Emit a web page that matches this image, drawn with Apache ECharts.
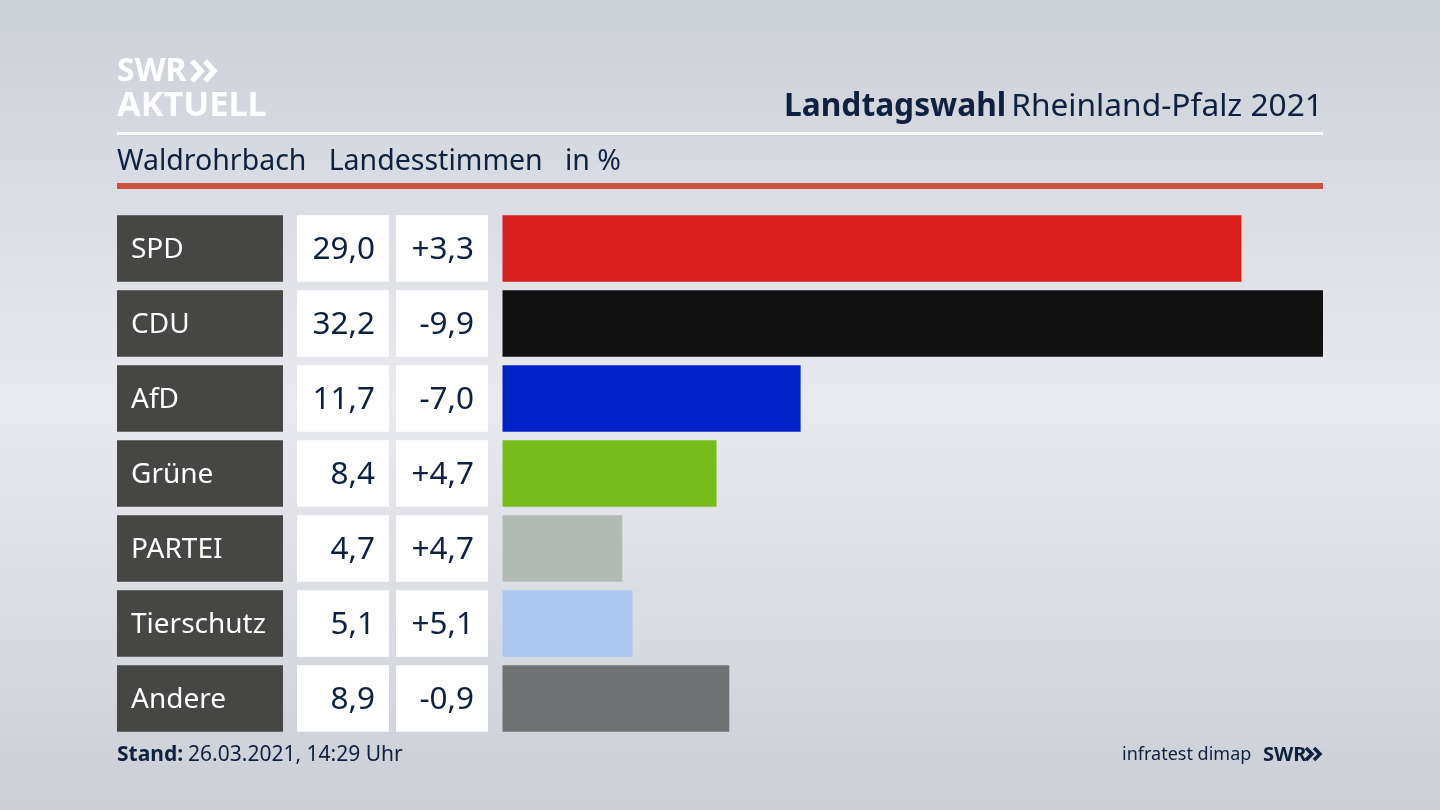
<!DOCTYPE html>
<html>
<head>
<meta charset="utf-8">
<style>html,body{margin:0;padding:0;background:#dfe1e6}#main{width:1440px;height:810px}</style>
<script src="https://cdn.jsdelivr.net/npm/echarts@6/dist/echarts.min.js"></script>
</head>
<body>
<div id="main"></div>
<script>
var parties = ['SPD', 'CDU', 'AfD', 'Grüne', 'PARTEI', 'Tierschutz', 'Andere'];
var shares = [29.0, 32.2, 11.7, 8.4, 4.7, 5.1, 8.9];
var changes = [3.3, -9.9, -7.0, 4.7, 4.7, 5.1, -0.9];
var colors = ['#d7201e', '#111111', '#0022c8', '#78bc1b', '#b2bab4', '#abc7f0', '#707173'];

var font = '"Noto Sans"';
var ink = '#0f2140';
var myChart = echarts.init(document.getElementById('main'));

function comma(v) {
  return Math.abs(v).toFixed(1).replace('.', ',');
}
function shareLabel(v) {
  return comma(v);
}
function changeLabel(v) {
  return (v < 0 ? '-' : '+') + comma(v);
}

// white cells next to the bars are axis labels with a background
function cellAxis(labels, offset, cellStyle) {
  return {
    type: 'category',
    inverse: true,
    position: 'left',
    offset: offset,
    data: labels,
    axisLine: { show: false },
    axisTick: { show: false },
    splitLine: { show: false },
    axisLabel: {
      margin: 0,
      align: 'right',
      interval: 0,
      formatter: function (v) { return '{c|' + v + '}'; },
      rich: { c: cellStyle }
    }
  };
}

var whiteCell = {
  width: 78,
  height: 62.5,
  lineHeight: 62.5,
  padding: [4, 14, 0, 0],
  align: 'right',
  backgroundColor: '#ffffff',
  color: ink,
  fontFamily: font,
  fontSize: 31.5
};

var option = {
  animation: false,
  backgroundColor: new echarts.graphic.LinearGradient(0, 0, 0, 1, [
    { offset: 0, color: '#ccd0d7' },
    { offset: 0.5, color: '#e9eaef' },
    { offset: 1, color: '#cbcfd5' }
  ]),
  title: [
    {
      text: '{b|Landtagswahl} {r|Rheinland-Pfalz 2021}',
      right: 112,
      top: 86,
      textStyle: {
        rich: {
          b: { fontFamily: font, fontSize: 31.7, fontWeight: 'bold', color: ink },
          r: { fontFamily: font, fontSize: 31.7, fontWeight: 'normal', color: ink }
        }
      }
    },
    {
      text: 'Waldrohrbach   Landesstimmen   in %',
      left: 112,
      top: 142,
      textStyle: { fontFamily: font, fontSize: 28.5, fontWeight: 'normal', color: ink }
    },
    {
      text: '{b|Stand:} {r|26.03.2021, 14:29 Uhr}',
      left: 112,
      top: 740,
      textStyle: {
        rich: {
          b: { fontFamily: font, fontSize: 21, fontWeight: 'bold', color: ink },
          r: { fontFamily: font, fontSize: 21, fontWeight: 'normal', color: ink }
        }
      }
    },
    {
      text: 'infratest dimap',
      left: 1117,
      top: 741,
      textStyle: { fontFamily: font, fontSize: 18, fontWeight: 'normal', color: ink }
    },
    {
      text: 'SWR',
      left: 1258,
      top: 740,
      textStyle: { fontFamily: font, fontSize: 20, fontWeight: 'bold', color: ink }
    },
    {
      text: 'SWR',
      left: 112,
      top: 51,
      textStyle: { fontFamily: font, fontSize: 32, fontWeight: 'bold', color: '#ffffff' }
    },
    {
      text: 'AKTUELL',
      left: 112,
      top: 84,
      textStyle: { fontFamily: font, fontSize: 34.3, fontWeight: 'bold', color: '#ffffff' }
    }
  ],
  graphic: [
    { type: 'rect', shape: { x: 117, y: 132, width: 1206, height: 3 }, style: { fill: '#ffffff' } },
    { type: 'rect', shape: { x: 117, y: 183, width: 1206, height: 6 }, style: { fill: '#c9533c' } },
    { type: 'polyline', shape: { points: [[192, 61], [201, 71], [192, 81]] }, style: { stroke: '#ffffff', lineWidth: 5.5, fill: null } },
    { type: 'polyline', shape: { points: [[205, 61], [214, 71], [205, 81]] }, style: { stroke: '#ffffff', lineWidth: 5.5, fill: null } },
    { type: 'polyline', shape: { points: [[1306, 748], [1312, 754], [1306, 760]] }, style: { stroke: ink, lineWidth: 3.5, fill: null } },
    { type: 'polyline', shape: { points: [[1314, 748], [1320, 754], [1314, 760]] }, style: { stroke: ink, lineWidth: 3.5, fill: null } }
  ],
  grid: { left: 502.5, right: 117, top: 211, height: 525 },
  xAxis: { type: 'value', min: 0, max: 32.2, show: false },
  yAxis: [
    cellAxis(parties, 219.5, {
      width: 152,
      height: 62.5,
      lineHeight: 62.5,
      padding: [4, 0, 0, 14],
      align: 'left',
      backgroundColor: '#464644',
      color: '#ffffff',
      fontFamily: font,
      fontSize: 28
    }),
    cellAxis(shares.map(shareLabel), 113.5, whiteCell),
    cellAxis(changes.map(changeLabel), 14.5, whiteCell)
  ],
  series: [
    {
      type: 'bar',
      yAxisIndex: 0,
      barWidth: 66.5,
      data: shares.map(function (v, i) {
        return { value: v, itemStyle: { color: colors[i] } };
      })
    }
  ]
};

myChart.setOption(option);
</script>
</body>
</html>
